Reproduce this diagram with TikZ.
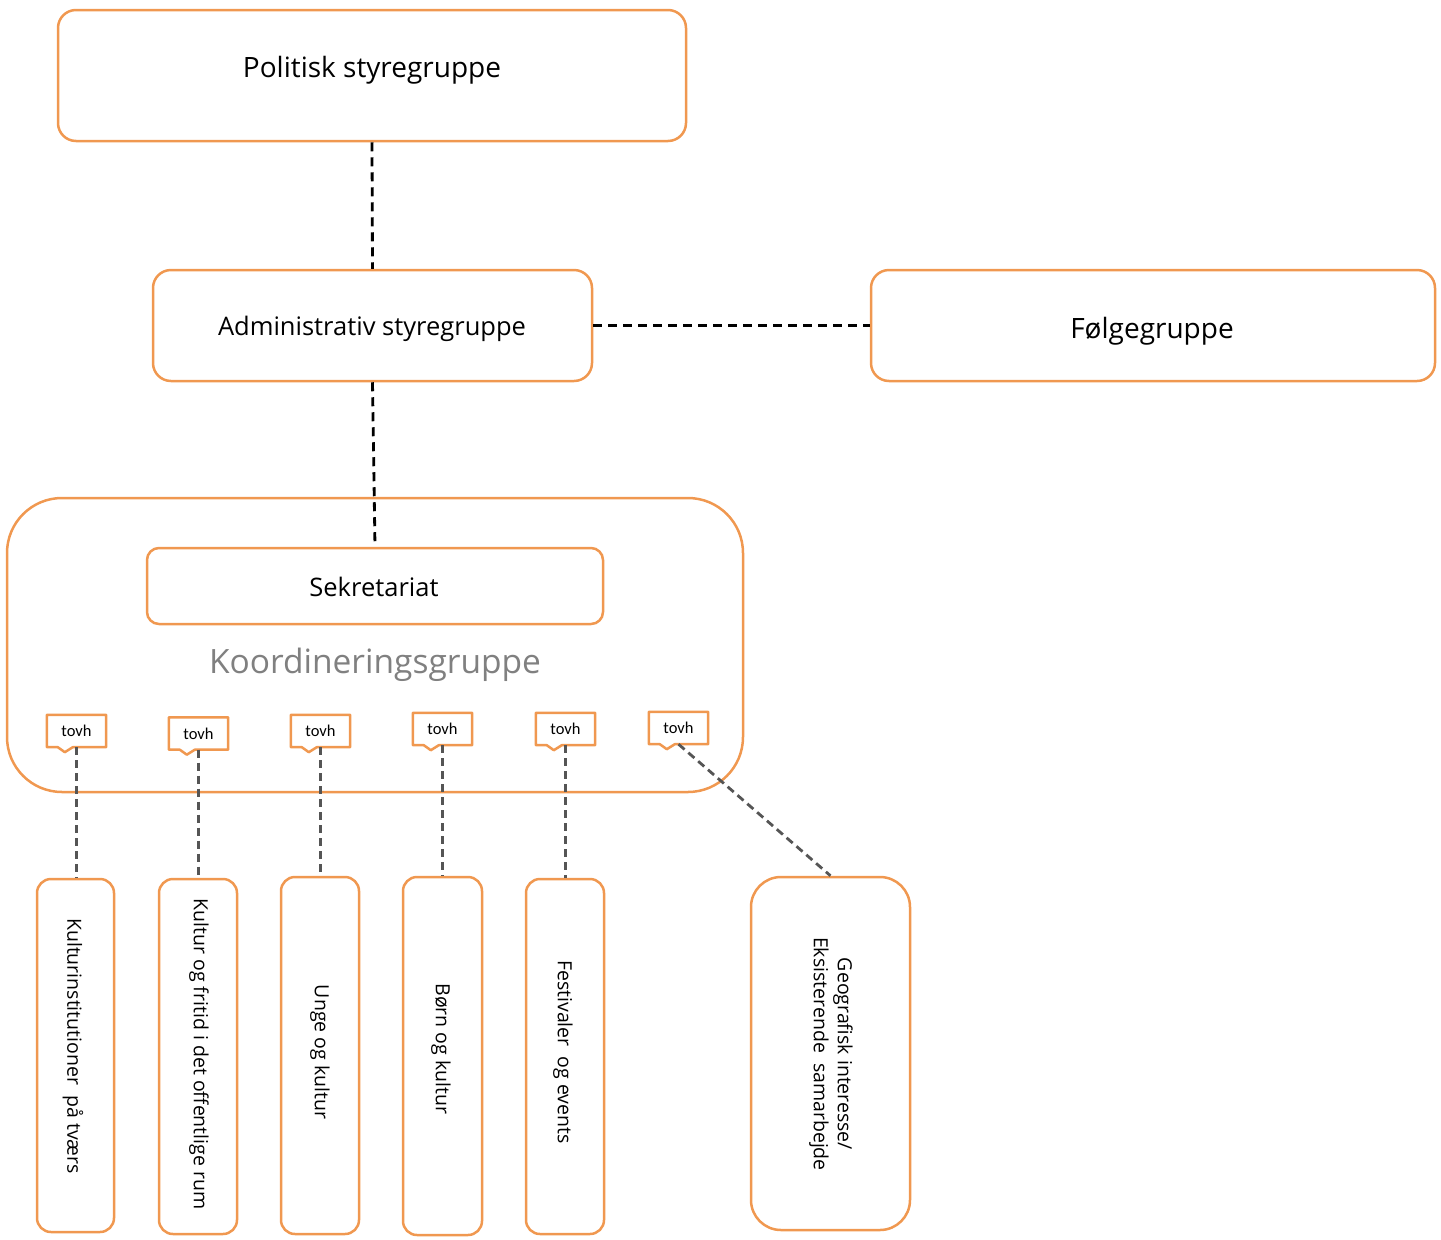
\documentclass[tikz,border=0pt]{standalone}
\usepackage{fontspec}
\setmainfont{Open Sans}
\newfontfamily\tovhfont{Carlito}
\definecolor{orng}{RGB}{240,152,80}
\definecolor{kgray}{RGB}{128,128,128}
\definecolor{lgray}{RGB}{85,85,85}
\begin{document}
\begin{tikzpicture}[x=1pt,y=-1pt,
  obox/.style={draw=orng,line width=2.5pt,rounded corners=18pt,inner sep=0pt},
  vbox/.style={draw=orng,line width=2.5pt,rounded corners=14pt,inner sep=0pt},
  blk/.style={draw=black,line width=2.8pt,dash pattern=on 9pt off 6pt},
  gry/.style={draw=lgray,line width=2.8pt,dash pattern=on 8pt off 5pt},
  ttext/.style={font=\fontsize{28}{33}\selectfont},
  vtext/.style={font=\fontsize{19.5}{24}\selectfont,rotate=-90,align=center},
  tv/.style={minimum width=59pt,minimum height=32pt,inner sep=0pt,font=\tovhfont\fontsize{16.5}{19}\selectfont}
]
\useasboundingbox (0,0) rectangle (1441,1240);
% top boxes
\node[obox,minimum width=628pt,minimum height=131pt] (pol) at (372,75.5) {};
\node[ttext] (polt) at (372,70) {Politisk styregruppe};
\node[obox,minimum width=439pt,minimum height=111pt] (adm) at (372.5,325.5) {};
\node[font=\fontsize{25.5}{30}\selectfont] (admt) at (372,329) {Administrativ styregruppe};
\node[obox,minimum width=564pt,minimum height=111pt] (fol) at (1153,325.5) {};
\node[ttext] (folt) at (1152,331) {Følgegruppe};
% koordinering
\node[draw=orng,line width=2.5pt,rounded corners=55pt,minimum width=736pt,minimum height=294pt] (koo) at (375,645) {};
\node[draw=orng,line width=2.5pt,rounded corners=12pt,minimum width=456pt,minimum height=76pt] (sek) at (375,586) {};
\node[font=\fontsize{25.5}{30}\selectfont] (sekt) at (374,587) {Sekretariat};
\node[text=kgray,font=\fontsize{33.5}{40}\selectfont] (koot) at (375,665) {Koordineringsgruppe};
% connectors top
\draw[blk] (pol.south) -- (adm.north);
\draw[blk] (adm.east) -- (fol.west);
\draw[blk] (adm.south) -- (sek.north);
% tovh
\foreach \n/\x/\y in {1/76.5/731, 2/198.5/733.5, 3/320.5/731, 4/442.5/729, 5/565.5/729, 6/678.5/728}{
  \node[tv] (t\n) at (\x,\y) {};
  \draw[draw=orng,line width=2.5pt,line join=round,fill=white]
    (t\n.north west) -- (t\n.north east) -- (t\n.south east)
    -- ([xshift=26pt]t\n.south west) -- ([xshift=18pt,yshift=-5pt]t\n.south west)
    -- ([xshift=11pt]t\n.south west) -- (t\n.south west) -- cycle;
  \node[tv] (tt\n) at (t\n) {tovh};
}
% bottom boxes
\node[vbox,minimum width=77pt,minimum height=353pt] (k1) at (75.5,1055.5) {};
\node[vbox,minimum width=78pt,minimum height=355pt] (k2) at (198,1056.5) {};
\node[vbox,minimum width=78pt,minimum height=357pt] (k3) at (320,1055.5) {};
\node[vbox,minimum width=79pt,minimum height=358pt] (k4) at (442.5,1056) {};
\node[vbox,minimum width=78pt,minimum height=355pt] (k5) at (565,1056.5) {};
\node[draw=orng,line width=2.5pt,rounded corners=30pt,minimum width=159pt,minimum height=353pt] (k6) at (830.5,1053.5) {};
\node[vtext] (k1t) at (73,1046) {Kulturinstitutioner\ \ på tværs};
\node[vtext] (k2t) at (199,1054) {Kultur og fritid i det offentlige rum};
\node[vtext] (k3t) at (320,1052) {Unge og kultur};
\node[vtext] (k4t) at (441,1049) {Børn og kultur};
\node[vtext] (k5t) at (563,1052) {Festivaler\ \ og events};
\node[vtext] (k6t) at (831,1054) {Geografisk interesse/\\Eksisterende\ \ samarbejde};
% gray connectors
\foreach \n in {1,...,5}{
  \draw[gry] (t\n.south) -- (t\n.south |- k\n.north);
}
\draw[gry] (t6.south) -- (k6.north);
\end{tikzpicture}
\end{document}
